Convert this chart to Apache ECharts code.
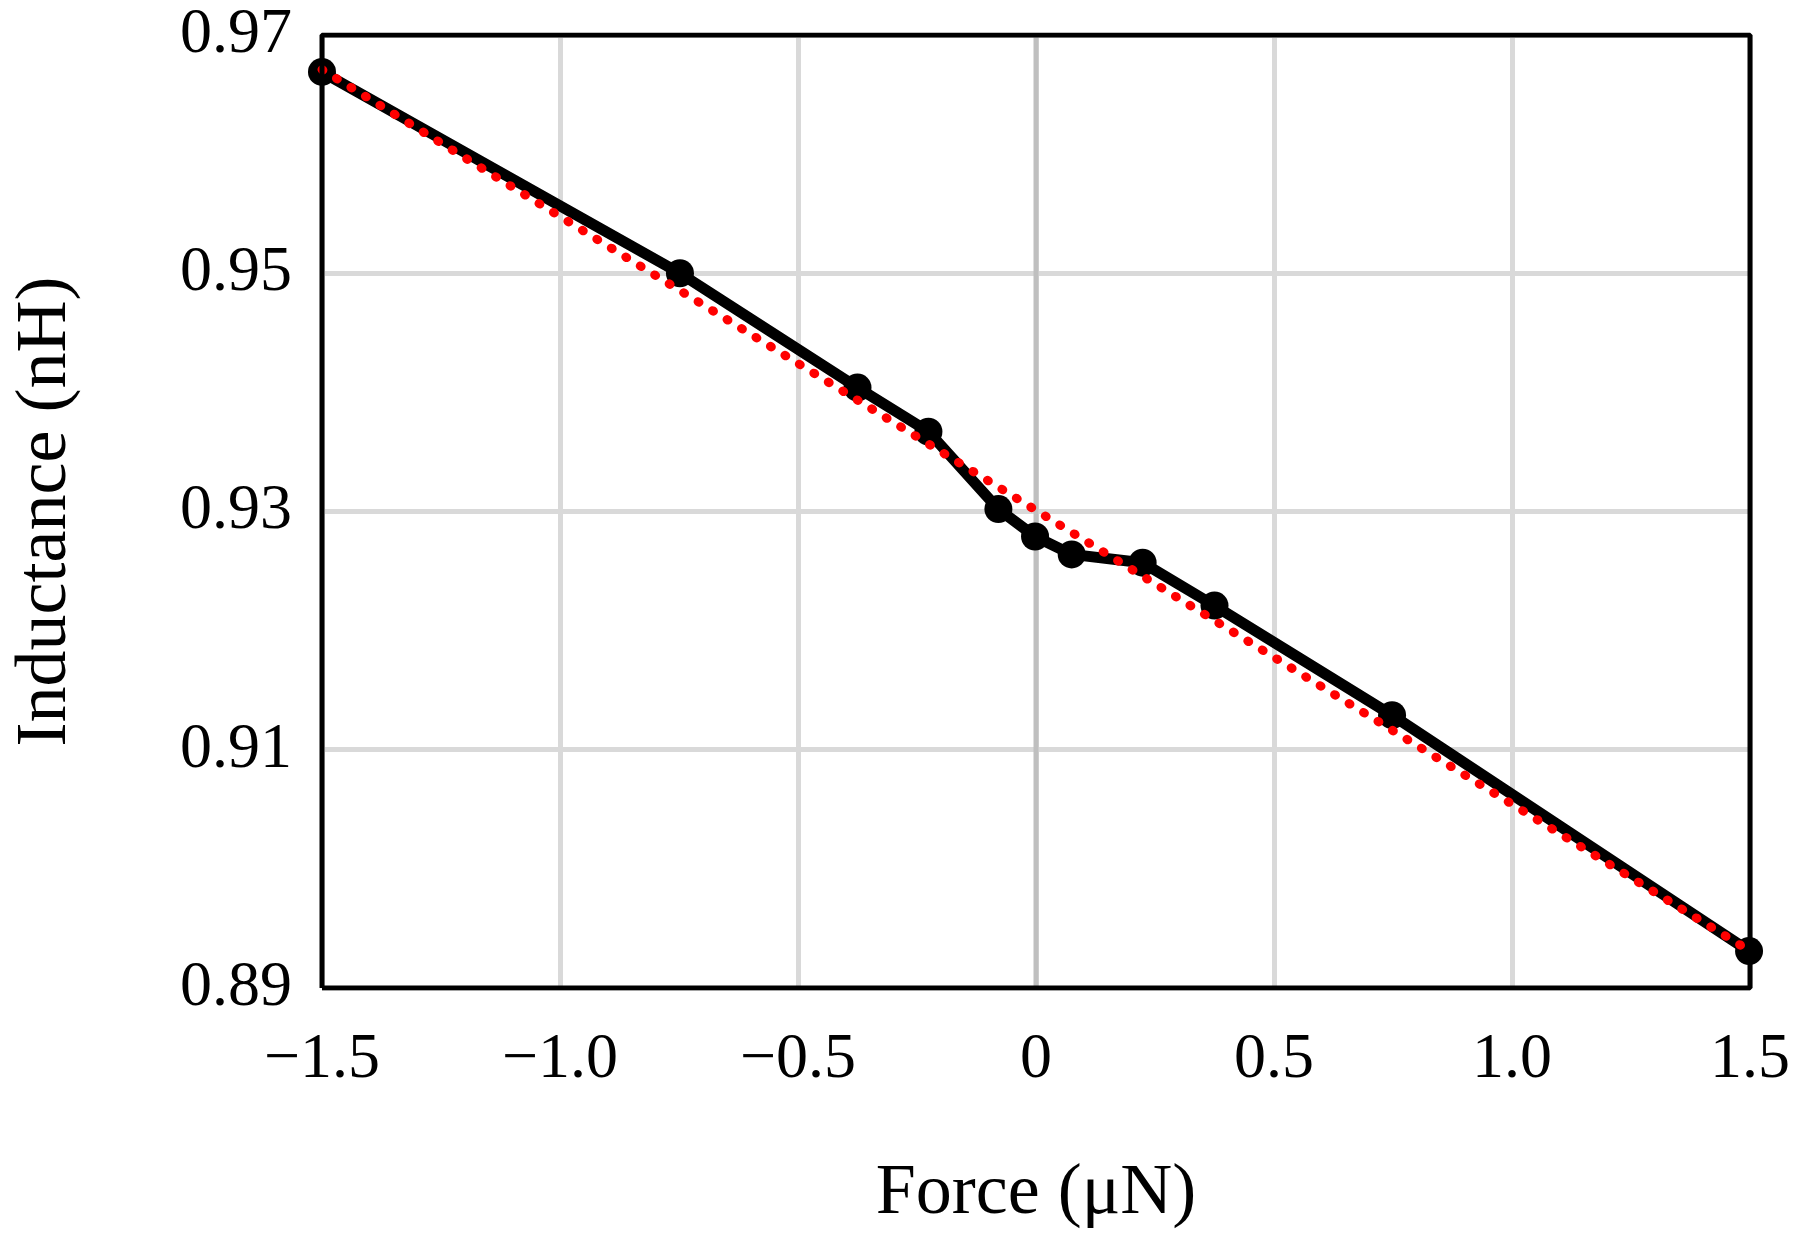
<!DOCTYPE html>
<html><head><meta charset="utf-8">
<script src="https://cdn.jsdelivr.net/npm/echarts@6/dist/echarts.min.js"></script>
<style>html,body{margin:0;padding:0;background:#fff}#c{width:1793px;height:1238px}</style>
</head><body><div id="c"></div>
<script>
const forceX = [-1.5, -0.748, -0.375, -0.226, -0.079, -0.002, 0.075, 0.224, 0.375, 0.748, 1.498];
const inductance = [0.9669, 0.9500, 0.9404, 0.9367, 0.9302, 0.9279, 0.9264, 0.9257, 0.9221, 0.9129, 0.8931];
const fitX = [-1.5, 1.5];
const fitY = [0.9671, 0.8931];
const font = "'Liberation Serif', 'Times New Roman', serif";
const chart = echarts.init(document.getElementById('c'));
chart.setOption({
  animation: false,
  grid: {left: 322, right: 37, top: 35, bottom: 250},
  xAxis: {
    type: 'value', min: -1.5, max: 1.5, interval: 0.5,
    name: 'Force (\u03bcN)', nameLocation: 'middle', nameGap: 170,
    nameTextStyle: {fontFamily: font, fontSize: 72, color: '#000'},
    axisLine: {show: false}, axisTick: {show: false},
    axisLabel: {fontFamily: font, fontSize: 64, color: '#000', margin: 40,
      formatter: v => v === 0 ? '0' : (v < 0 ? '\u2212' : '') + Math.abs(v).toFixed(1)},
    splitLine: {lineStyle: {color: '#d9d9d9', width: 5}}
  },
  yAxis: {
    type: 'value', min: 0.89, max: 0.97, interval: 0.02,
    name: 'Inductance (nH)', nameLocation: 'middle', nameGap: 240,
    nameTextStyle: {fontFamily: font, fontSize: 72, color: '#000'},
    axisLine: {show: false}, axisTick: {show: false},
    axisLabel: {fontFamily: font, fontSize: 64, color: '#000', margin: 30, formatter: v => v.toFixed(2)},
    splitLine: {lineStyle: {color: '#d9d9d9', width: 5}}
  },
  series: [
    {type: 'line', data: [[0, 0.89], [0, 0.97]], symbol: 'none', silent: true,
     lineStyle: {color: '#bfbfbf', width: 5}, z: 1},
    {type: 'line', data: forceX.map((x, i) => [x, inductance[i]]), symbol: 'circle', symbolSize: 28,
     itemStyle: {color: '#000'}, lineStyle: {color: '#000', width: 11}, z: 3},
    {type: 'line', data: fitX.map((x, i) => [x, fitY[i]]), symbol: 'none',
     lineStyle: {color: '#ff0000', width: 9, type: [1, 16], cap: 'round'}, z: 4},
    {type: 'line', data: [[-1.5, 0.89], [1.5, 0.89], [1.5, 0.97], [-1.5, 0.97], [-1.5, 0.89]], symbol: 'none',
     silent: true, lineStyle: {color: '#000', width: 5}, z: 5}
  ]
});
</script></body></html>
